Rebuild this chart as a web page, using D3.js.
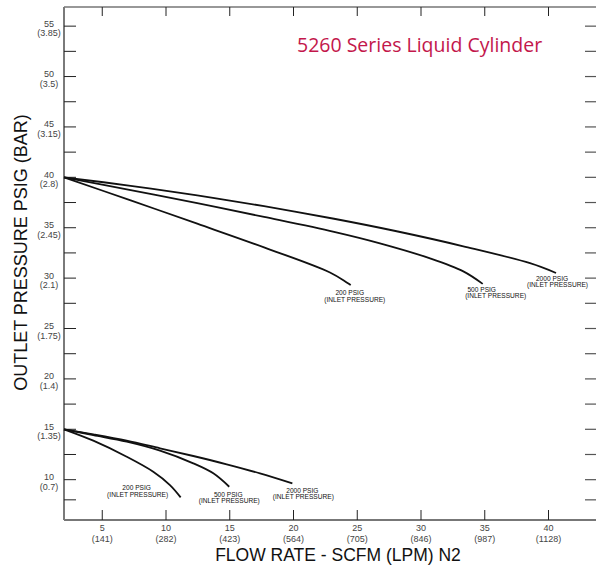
<!DOCTYPE html>
<html>
<head>
<meta charset="utf-8">
<script src="https://cdn.jsdelivr.net/npm/d3@7"></script>
<style>
  body { margin: 0; background: #fff; }
  text { font-family: "Liberation Sans", Arial, sans-serif; }
</style>
</head>
<body>
<div id="chart"></div>
<script>
// axis values
const flowTicks = [5, 10, 15, 20, 25, 30, 35, 40];
const flowLpm = ["(141)", "(282)", "(423)", "(564)", "(705)", "(846)", "(987)", "(1128)"];
const pressTicks = [10, 15, 20, 25, 30, 35, 40, 45, 50, 55];
const pressBar = ["(0.7)", "(1.35)", "(1.4)", "(1.75)", "(2.1)", "(2.45)", "(2.8)", "(3.15)", "(3.5)", "(3.85)"];
const pressMinor = [8, 12.5, 17.5, 22.5, 27.5, 32.5, 37.5, 42.5, 47.5, 52.5];

// curves: [flow scfm, outlet psig]
const high200 = [[2, 40], [7.23, 37.71], [12.45, 35.4], [17.69, 33.05], [22.86, 30.56], [24.49, 29.31]];
const high500 = [[2, 40], [7.23, 38.74], [12.45, 37.43], [17.69, 36.07], [23.18, 34.59], [26.78, 33.45], [30.71, 31.96], [33.32, 30.67], [34.84, 29.43]];
const high2000 = [[2, 40], [7.23, 39.16], [12.45, 38.21], [17.69, 37.14], [23.18, 35.89], [28.09, 34.65], [33.32, 33.16], [38.55, 31.48], [40.59, 30.51]];
const low200 = [[2, 15], [4.3, 13.87], [6.92, 12.28], [9.0, 10.79], [10.31, 9.47], [11.15, 8.25]];
const low500 = [[2, 15], [4.3, 14.43], [6.92, 13.77], [9.53, 12.88], [12.14, 11.62], [13.71, 10.63], [14.96, 9.3]];
const low2000 = [[2, 15], [4.3, 14.5], [6.92, 13.87], [9.53, 13.11], [12.14, 12.35], [14.76, 11.53], [17.37, 10.63], [19.91, 9.64]];
const inletNames = ["200 PSIG", "500 PSIG", "2000 PSIG", "200 PSIG", "500 PSIG", "2000 PSIG"];

// label offsets from the end of each curve (px): [dx1, dy1, dx2, dy2]
const labelOffsets = [[-1, 10, 4, 16.5], [-1, 8, 13, 14], [-4, 8, 1.5, 14],
                      [-44, -7, -43, -0.5], [-1, 10, 0, 16.5], [10, 9.5, 11, 15.5]];

const width = 596;
const height = 569;
const plotLeft = 64, plotTop = 7, plotRight = 598, plotBottom = 520;

const svg = d3.select("#chart")
    .append("svg")
        .attr("width", width)
        .attr("height", height);

const x = d3.scaleLinear().domain([2, 2 + (plotRight - plotLeft) / 12.75]).range([plotLeft, plotRight]);
const y = d3.scaleLinear().domain([6, 56.9]).range([plotBottom, plotTop]);

// frame
svg.append("line").attr("x1", plotLeft).attr("x2", plotRight).attr("y1", plotTop).attr("y2", plotTop)
    .attr("stroke", "#333").attr("stroke-width", 1.2);
svg.append("line").attr("x1", plotLeft).attr("x2", plotRight).attr("y1", plotBottom).attr("y2", plotBottom)
    .attr("stroke", "#777").attr("stroke-width", 2);
svg.append("line").attr("x1", plotLeft).attr("x2", plotLeft).attr("y1", plotTop).attr("y2", plotBottom)
    .attr("stroke", "#7a7a7a").attr("stroke-width", 2);

// y ticks, both sides, inward
const allPress = pressTicks.concat(pressMinor);
svg.append("g").selectAll("line")
    .data(allPress)
    .enter().append("line")
        .attr("x1", plotLeft).attr("x2", plotLeft + 12)
        .attr("y1", d => y(d)).attr("y2", d => y(d))
        .attr("stroke", "#222").attr("stroke-width", 1);
svg.append("g").selectAll("line")
    .data(allPress)
    .enter().append("line")
        .attr("x1", plotRight - 13).attr("x2", plotRight)
        .attr("y1", d => y(d)).attr("y2", d => y(d))
        .attr("stroke", "#555").attr("stroke-width", 1.2);

// x ticks, top and bottom
svg.append("g").selectAll("line")
    .data(flowTicks)
    .enter().append("line")
        .attr("x1", d => x(d)).attr("x2", d => x(d))
        .attr("y1", plotBottom).attr("y2", plotBottom - 10)
        .attr("stroke", "#222").attr("stroke-width", 1);
svg.append("g").selectAll("line")
    .data(flowTicks)
    .enter().append("line")
        .attr("x1", d => x(d)).attr("x2", d => x(d))
        .attr("y1", plotTop).attr("y2", plotTop + 9)
        .attr("stroke", "#222").attr("stroke-width", 1);

// y tick labels
const yLab = svg.append("g")
    .attr("fill", "#444")
    .attr("font-size", 9)
    .attr("text-anchor", "middle");
yLab.selectAll("text.num")
    .data(pressTicks)
    .enter().append("text")
        .attr("class", "num")
        .attr("x", 49)
        .attr("y", d => y(d) + 0.5)
        .text(d => d);
yLab.selectAll("text.bar")
    .data(pressTicks)
    .enter().append("text")
        .attr("class", "bar")
        .attr("x", 49)
        .attr("y", d => y(d) + 10)
        .text((d, i) => pressBar[i]);

// x tick labels
const xLab = svg.append("g")
    .attr("fill", "#444")
    .attr("font-size", 9)
    .attr("text-anchor", "middle");
xLab.selectAll("text.num")
    .data(flowTicks)
    .enter().append("text")
        .attr("class", "num")
        .attr("x", d => x(d))
        .attr("y", plotBottom + 11)
        .text(d => d);
xLab.selectAll("text.lpm")
    .data(flowTicks)
    .enter().append("text")
        .attr("class", "lpm")
        .attr("x", d => x(d))
        .attr("y", plotBottom + 21.5)
        .text((d, i) => flowLpm[i]);

// curves
const line = d3.line()
    .x(d => x(d[0]))
    .y(d => y(d[1]))
    .curve(d3.curveCatmullRom);

const curves = [high200, high500, high2000, low200, low500, low2000];
svg.append("g").selectAll("path")
    .data(curves)
    .enter().append("path")
        .attr("d", line)
        .attr("fill", "none")
        .attr("stroke", "#111")
        .attr("stroke-width", 1.8);

// inlet pressure labels
curves.forEach((c, i) => {
    const end = c[c.length - 1];
    const o = labelOffsets[i];
    const g = svg.append("g")
        .attr("fill", "#111")
        .attr("font-size", 6.6)
        .attr("text-anchor", "middle");
    g.append("text")
        .attr("x", x(end[0]) + o[0])
        .attr("y", y(end[1]) + o[1])
        .text(inletNames[i]);
    g.append("text")
        .attr("x", x(end[0]) + o[2])
        .attr("y", y(end[1]) + o[3])
        .text("(INLET PRESSURE)");
});

// titles
svg.append("text")
    .attr("x", 338)
    .attr("y", 561)
    .attr("text-anchor", "middle")
    .attr("font-size", 17.5)
    .attr("fill", "#111")
    .text("FLOW RATE - SCFM (LPM) N2");

svg.append("text")
    .attr("transform", "translate(27, 252.5) rotate(-90)")
    .attr("text-anchor", "middle")
    .attr("font-size", 18)
    .attr("fill", "#111")
    .text("OUTLET PRESSURE PSIG (BAR)");

svg.append("text")
    .attr("x", 297)
    .attr("y", 52)
    .attr("font-size", 19.5)
    .attr("fill", "#c3174b")
    .style("font-family", "'Open Sans', Lato, sans-serif")
    .text("5260 Series Liquid Cylinder");
</script>
</body>
</html>
